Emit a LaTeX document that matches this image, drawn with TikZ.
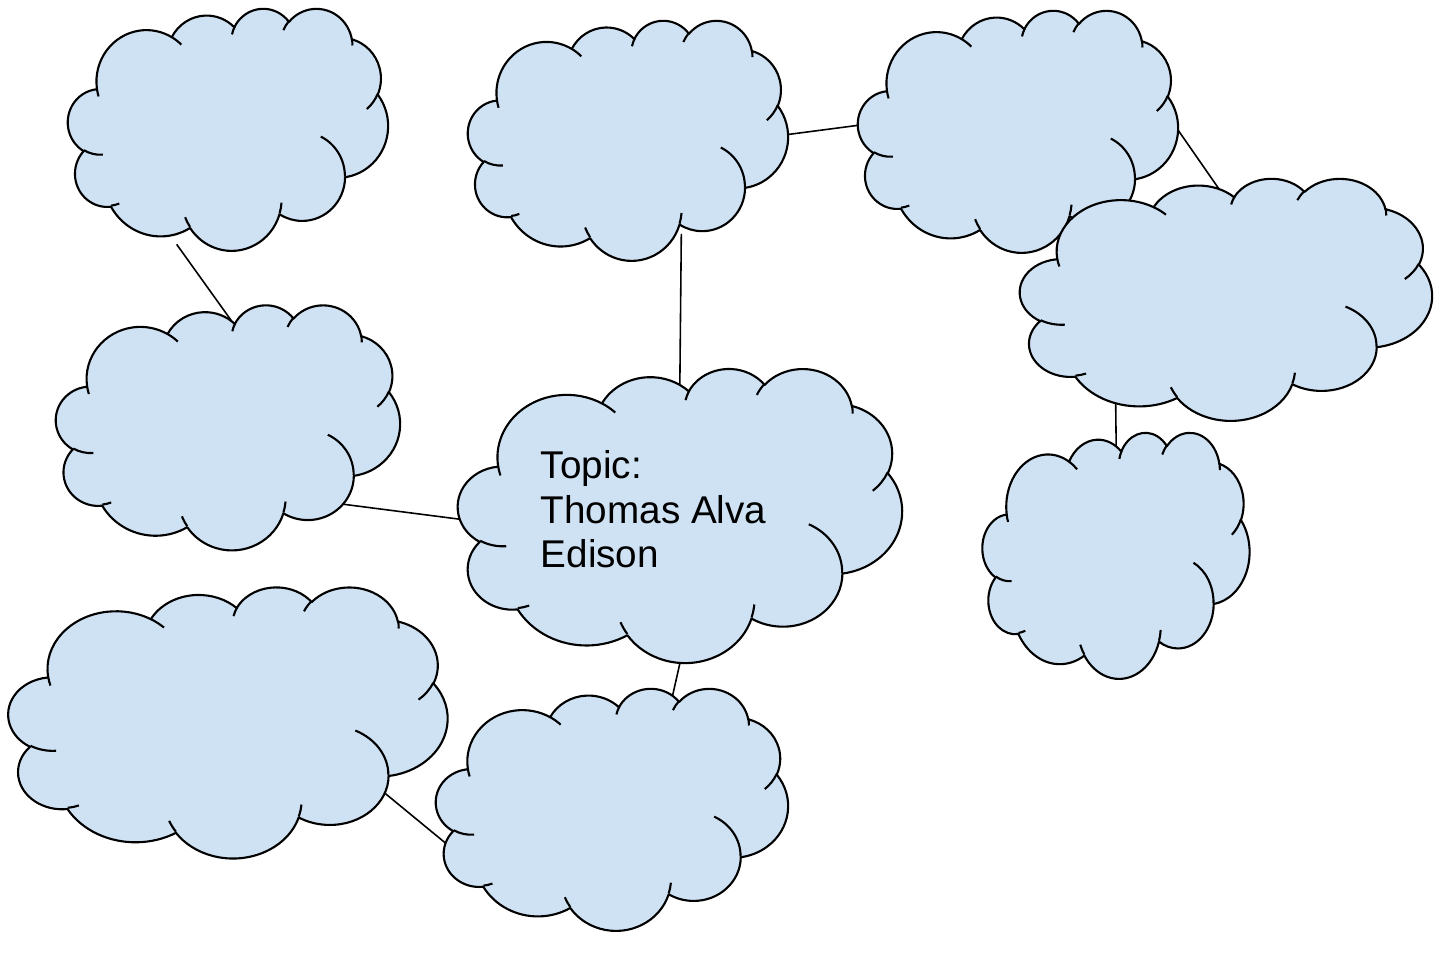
\documentclass[tikz,border=0pt]{standalone}
\usepackage{fontspec}
\setmainfont{Liberation Sans}
\usetikzlibrary{shapes.geometric}
\definecolor{cloudblue}{RGB}{207,226,243}

% one puff of the cloud: x radius, y radius, start and sweep angle (seen angles)
\newcommand\puff[4]{arc[x radius=#1, y radius=#2,
  start angle={atan2(#1*sin(#3),#2*cos(#3))},
  delta angle={#4+mod(atan2(#1*sin(#3+#4),#2*cos(#3+#4))-atan2(#1*sin(#3),#2*cos(#3))-#4+540,360)-180}]}

\tikzset{
  spot/.style={ellipse, inner sep=0pt, minimum width=#1},
  cloudline/.style={draw=black, line width=0.6pt, line join=round},
  link/.style={draw=black, line width=0.45pt, shorten <=-0.2cm, shorten >=-0.2cm},
  pics/bubble/.style={code={
    \draw[cloudline, fill=cloudblue] (-17.7,-7.23)
      \puff{6.753}{9.190}{-190.487}{123.781}
      \puff{5.333}{7.267}{-144.102}{89.945}
      \puff{4.365}{5.945}{-145.808}{99.723}
      \puff{4.857}{6.595}{-130.986}{117.242}
      \puff{5.333}{7.273}{-78.709}{109.027}
      \puff{6.775}{9.220}{-46.267}{130.269}
      \puff{5.785}{7.867}{0.625}{114.033}
      \puff{6.752}{9.215}{22.452}{115.173}
      \puff{7.720}{10.543}{66.243}{75.711}
      \puff{4.360}{5.918}{-274.942}{146.736}
      \puff{4.345}{5.945}{-246.829}{152.519} -- cycle;
    \draw[cloudline]
      (-16.907,4.577) \puff{4.345}{5.945}{86.742}{26.430}
      (-14.672,13.299) \puff{4.360}{5.918}{73.610}{11.447}
      (-5.122,17.490) \puff{6.752}{9.215}{137.624}{14.081}
      (7.227,13.151) \puff{6.752}{9.215}{6.453}{15.998}
      (12.529,1.354) \puff{5.785}{7.867}{-70.292}{70.917}
      (20.198,-6.246) \puff{5.333}{7.273}{30.318}{27.752}
      (16.724,-16.174) \puff{4.857}{6.595}{-13.744}{14.859}
      (7.478,-17.648) \puff{4.857}{6.595}{-149.181}{18.195}
      (0.541,-16.880) \puff{4.365}{5.945}{-163.494}{17.686}
      (-7.600,-16.408) \puff{6.753}{9.190}{-66.707}{12.319}
      (-17.473,-5.811) \puff{6.753}{9.190}{157.654}{11.858};
  }}
}

\begin{document}
\begin{tikzpicture}[x=0.01cm,y=-0.01cm]
    \useasboundingbox (0,0) rectangle (1440,959); % size of the page
    \def\clouds{c1/228/129/320/242, c2/628/140/320/240, c3/1018/131/320/242,
      c4/1226/299/412/242, c5/228/427/344/245, c6/680/515/444/294,
      c7/1116/555/267/246, c8/228/722/439/271, c9/612/809/352/242}
    % places of the clouds
    \foreach \n/\x/\y/\w/\h in \clouds
      \node[spot=\w*0.01cm, minimum height=\h*0.01cm] (\n) at (\x,\y) {};
    % connectors, under the clouds
    \draw[link, shorten <=0pt] (c1.-114.2) -- (c5.94);
    \draw[link] (c2.-65.4) -- (c6.90);
    \draw[link] (c2.2) -- (c3.178);
    \draw[link] (c3.0) -- (c4.97);
    \draw[link] (c4.-137) -- (c7.90);
    \draw[link] (c5.-31) -- (c6.-179.5);
    \draw[link] (c6.-90) -- (c9.62.3);
    \draw[link] (c8.-26.5) -- (c9.-170.5);
    % clouds
    \foreach \n/\x/\y/\w/\h in \clouds
      \pic[xscale=\w/43.2, yscale=\h/43.2] at (\n) {bubble};
    \node[anchor=north west, align=left, inner sep=0pt,
      font=\fontsize{11}{12.6}\selectfont] (topic) at (540,450) {Topic:\\Thomas Alva\\Edison};
\end{tikzpicture}
\end{document}
